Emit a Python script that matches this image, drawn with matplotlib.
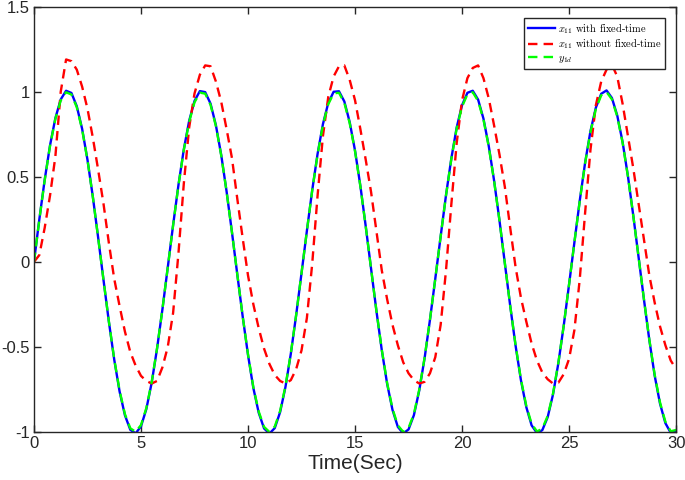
import matplotlib
matplotlib.use('Agg')
import matplotlib.pyplot as plt
import numpy as np

# time axis, 0.25 s steps
t = np.arange(0, 30.001, 0.25)

# y_d reference signal
y_d = [0.0, 0.247, 0.479, 0.682, 0.841, 0.949, 0.997, 0.984, 0.909, 0.778,
       0.598, 0.382, 0.141, -0.108, -0.351, -0.572, -0.757, -0.895, -0.978, -0.999,
       -0.959, -0.859, -0.706, -0.508, -0.279, -0.033, 0.215, 0.450, 0.657, 0.823,
       0.938, 0.995, 0.989, 0.923, 0.798, 0.624, 0.412, 0.174, -0.075, -0.319,
       -0.544, -0.737, -0.880, -0.970, -1.000, -0.968, -0.876, -0.730, -0.537, -0.311,
       -0.066, 0.182, 0.420, 0.631, 0.804, 0.927, 0.991, 0.994, 0.935, 0.816,
       0.650, 0.444, 0.208, -0.041, -0.288, -0.516, -0.712, -0.863, -0.961, -0.999,
       -0.976, -0.894, -0.751, -0.563, -0.340, -0.098, 0.150, 0.390, 0.605, 0.785,
       0.913, 0.985, 0.997, 0.946, 0.837, 0.675, 0.473, 0.241, -0.009, -0.258,
       -0.489, -0.690, -0.846, -0.952, -0.997, -0.980, -0.906, -0.774, -0.592, -0.374,
       -0.132, 0.116, 0.359, 0.580, 0.763, 0.898, 0.979, 0.999, 0.956, 0.855,
       0.701, 0.502, 0.271, 0.025, -0.222, -0.457, -0.664, -0.827, -0.940, -0.996,
       -0.988]

# x11 with fixed-time (tracks y_d almost exactly)
x11_fixed = [0.0, 0.250, 0.482, 0.685, 0.845, 0.955, 1.006, 0.993, 0.915, 0.782,
             0.600, 0.383, 0.141, -0.108, -0.352, -0.575, -0.762, -0.902, -0.987, -1.008,
             -0.967, -0.865, -0.710, -0.510, -0.280, -0.033, 0.216, 0.452, 0.661, 0.829,
             0.946, 1.004, 0.998, 0.930, 0.803, 0.627, 0.413, 0.174, -0.075, -0.320,
             -0.547, -0.742, -0.887, -0.979, -1.009, -0.977, -0.883, -0.735, -0.540, -0.312,
             -0.066, 0.182, 0.422, 0.635, 0.810, 0.935, 1.000, 1.003, 0.943, 0.822,
             0.654, 0.446, 0.209, -0.041, -0.289, -0.519, -0.717, -0.870, -0.970, -1.008,
             -0.985, -0.901, -0.756, -0.566, -0.341, -0.098, 0.150, 0.392, 0.609, 0.791,
             0.921, 0.994, 1.006, 0.954, 0.842, 0.679, 0.475, 0.242, -0.009, -0.259,
             -0.492, -0.695, -0.853, -0.961, -1.006, -0.989, -0.913, -0.779, -0.595, -0.375,
             -0.132, 0.116, 0.361, 0.584, 0.769, 0.906, 0.988, 1.008, 0.964, 0.861,
             0.705, 0.504, 0.272, 0.025, -0.223, -0.460, -0.669, -0.834, -0.948, -1.005,
             -0.996]

# x11 without fixed-time
x11_nofixed = [0.0, 0.04, 0.20, 0.39, 0.62, 1.00, 1.19, 1.18, 1.13, 1.03,
               0.90, 0.73, 0.54, 0.34, 0.11, -0.10, -0.26, -0.41, -0.53, -0.61,
               -0.67, -0.70, -0.715, -0.70, -0.62, -0.50, -0.30, 0.05, 0.46, 0.79,
               0.99, 1.10, 1.155, 1.15, 1.06, 0.94, 0.78, 0.61, 0.37, 0.14,
               -0.08, -0.25, -0.39, -0.51, -0.60, -0.665, -0.70, -0.715, -0.695, -0.63,
               -0.52, -0.33, -0.01, 0.39, 0.74, 0.97, 1.09, 1.15, 1.155, 1.07,
               0.95, 0.78, 0.60, 0.41, 0.18, -0.05, -0.22, -0.37, -0.49, -0.59,
               -0.655, -0.695, -0.715, -0.705, -0.655, -0.56, -0.37, -0.05, 0.34, 0.70,
               0.95, 1.08, 1.14, 1.155, 1.08, 0.96, 0.80, 0.63, 0.44, 0.20,
               -0.03, -0.21, -0.35, -0.48, -0.58, -0.65, -0.69, -0.715, -0.71, -0.66,
               -0.57, -0.40, -0.10, 0.29, 0.66, 0.92, 1.06, 1.13, 1.16, 1.09,
               0.93, 0.74, 0.55, 0.34, 0.13, -0.08, -0.24, -0.38, -0.49, -0.58,
               -0.63]

xticks = [0, 5, 10, 15, 20, 25, 30]
yticks = [-1, -0.5, 0, 0.5, 1, 1.5]
ytick_labels = ['-1', '-0.5', '0', '0.5', '1', '1.5']

plt.rcParams['font.family'] = ['Liberation Sans', 'DejaVu Sans']
plt.rcParams['mathtext.fontset'] = 'cm'

fig = plt.figure(figsize=(6.85, 4.8), dpi=100)
ax = fig.add_axes([0.0496, 0.1, 0.9374, 0.886])

ax.plot(t, x11_fixed, color='#0000ff', lw=1.7, label=r'$x_{11}$ with fixed-time')
ax.plot(t, x11_nofixed, color='#ff0000', lw=1.7, ls=(0, (4, 2.6)),
        label=r'$x_{11}$ without fixed-time')
ax.plot(t, y_d, color='#00ff00', lw=1.7, ls=(0, (4, 2.6)), label=r'$y_{1d}$')

ax.set_xlim(0, 30)
ax.set_ylim(-1, 1.5)
ax.set_xticks(xticks)
ax.set_xticklabels([str(v) for v in xticks])
ax.set_yticks(yticks)
ax.set_yticklabels(ytick_labels)
ax.tick_params(direction='in', top=True, right=True, length=5, width=1,
               labelsize=12, colors='#262626', pad=3)
for sp in ax.spines.values():
    sp.set_color('#262626')
    sp.set_linewidth(1)

ax.set_xlabel('Time(Sec)', fontsize=15, color='#262626', labelpad=2)

leg = ax.legend(loc='upper right', prop={'family': 'cmr10', 'size': 7.5},
                fancybox=False, edgecolor='#262626', framealpha=1,
                handlelength=2.6, handletextpad=0.25, borderpad=0.35,
                labelspacing=0.2, borderaxespad=1.1)
leg.get_frame().set_linewidth(1)

fig.savefig('out.png', dpi=100)
